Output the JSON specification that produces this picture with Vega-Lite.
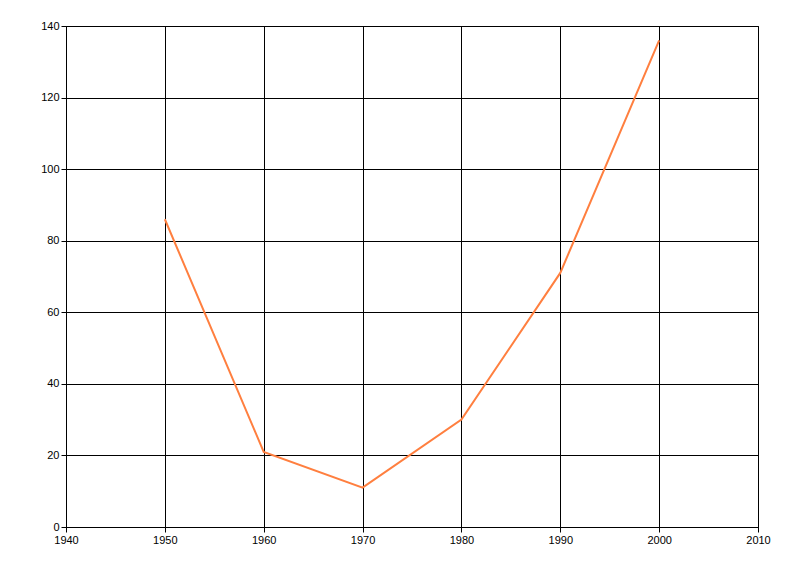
{
  "$schema": "https://vega.github.io/schema/vega-lite/v6.json",
  "width": 692,
  "height": 501,
  "autosize": "none",
  "padding": {"left": 66, "top": 26, "right": 42, "bottom": 49},
  "background": "white",
  "config": {
    "view": {"stroke": "black", "strokeWidth": 1},
    "axis": {
      "labelFont": "Liberation Sans",
      "labelFontSize": 11,
      "labelColor": "black",
      "labelFlush": false,
      "labelOverlap": false,
      "domainColor": "black",
      "tickColor": "black",
      "gridColor": "black",
      "gridOpacity": 1,
      "tickSize": 5,
      "labelPadding": 2,
      "title": null
    }
  },
  "data": {
    "values": [
      {"year": 1950, "value": 86},
      {"year": 1960, "value": 21},
      {"year": 1970, "value": 11},
      {"year": 1980, "value": 30},
      {"year": 1990, "value": 71},
      {"year": 2000, "value": 136}
    ]
  },
  "mark": {"type": "line", "color": "#FF7F3F", "strokeWidth": 2},
  "encoding": {
    "x": {
      "field": "year",
      "type": "quantitative",
      "scale": {"domain": [1940, 2010], "nice": false, "zero": false},
      "axis": {"values": [1940, 1950, 1960, 1970, 1980, 1990, 2000, 2010], "format": "d", "grid": true}
    },
    "y": {
      "field": "value",
      "type": "quantitative",
      "scale": {"domain": [0, 140], "nice": false},
      "axis": {"values": [0, 20, 40, 60, 80, 100, 120, 140], "grid": true}
    }
  }
}
